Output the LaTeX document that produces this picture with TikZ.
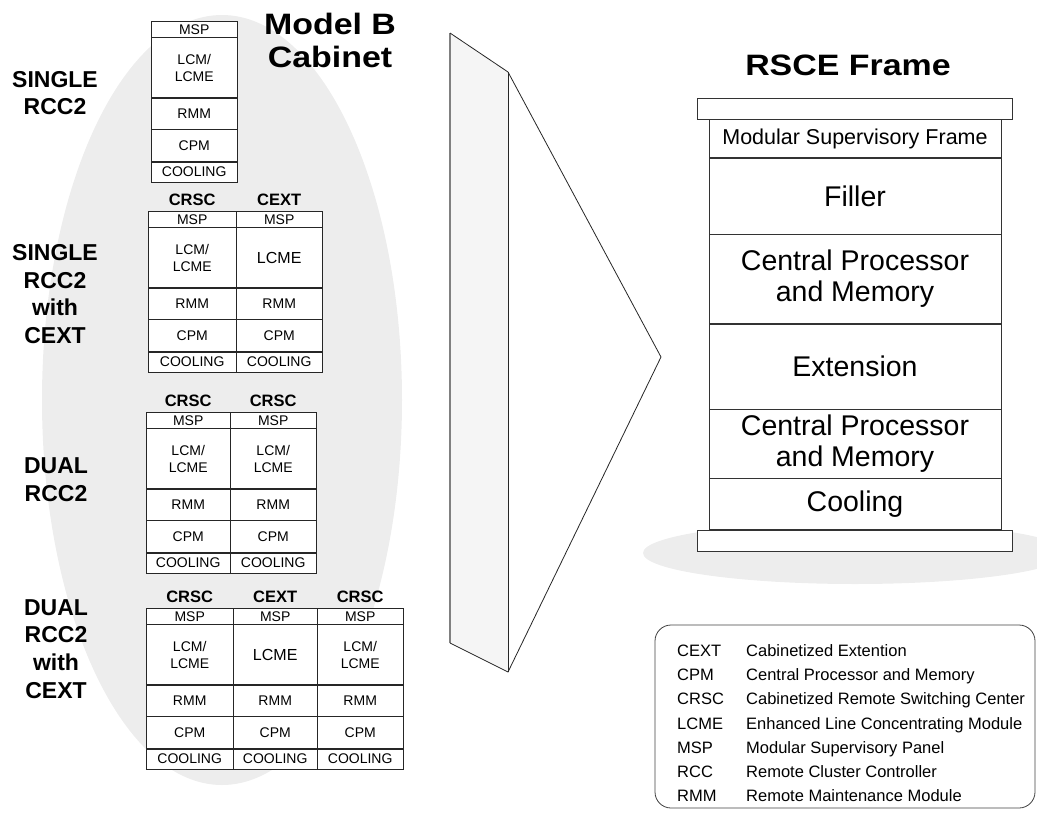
\documentclass[tikz,border=0pt]{standalone}
\usepackage{fontspec}
\setmainfont{Liberation Sans}
\newfontfamily\titlefont[FakeStretch=1.15]{Liberation Sans}
\usetikzlibrary{positioning}

\newcommand{\drawcabinet}[5]{
    \node[part,minimum width=#4,minimum height=16,anchor=north west] (#1_msp) at (#2,#3) {MSP};
    \node[part,minimum width=#4,minimum height=60,below=0pt of #1_msp] (#1_lcm) {#5};
    \node[part,minimum width=#4,minimum height=31,below=0pt of #1_lcm] (#1_rmm) {RMM};
    \node[part,minimum width=#4,minimum height=32,below=0pt of #1_rmm] (#1_cpm) {CPM};
    \node[part,minimum width=#4,minimum height=20,below=0pt of #1_cpm] (#1_cool) {COOLING};
}
\newcommand{\lcme}{{\fontsize{16}{19}\selectfont LCME}}

\begin{document}
\begin{tikzpicture}[x=1pt, y=-1pt]
            \tikzstyle{part}=[draw=black!85,fill=white,inner sep=0pt,align=center,font=\fontsize{14}{16.8}\selectfont]
            \tikzstyle{head}=[inner sep=0pt,font=\fontsize{16.5}{19}\selectfont\bfseries]
            \tikzstyle{config}=[inner sep=0pt,align=center,font=\fontsize{23}{27.8}\selectfont\bfseries]
            \tikzstyle{title}=[inner sep=0pt,align=center,font=\titlefont\bfseries\fontsize{29.5}{33}\selectfont]
            \tikzstyle{shelf}=[draw=black!80,fill=white,inner sep=0pt,minimum width=292,align=center,font=\fontsize{28.5}{31}\selectfont]
            \tikzstyle{bar}=[draw=black!80,fill=white,inner sep=0pt,minimum width=315,minimum height=21]

            \useasboundingbox (0,0) rectangle (1037,814);
            \clip (0,0) rectangle (1037,814);

            % grey backdrops
            \fill[black!7] (222,400) ellipse (180 and 385);
            \fill[black!7] (855,553) ellipse (212 and 31);

            % the prism
            \coordinate (back_top) at (450,33);
            \coordinate (back_bot) at (450,643);
            \coordinate (front_top) at (508,72);
            \coordinate (front_bot) at (508,672);
            \coordinate (tip) at (661,357);
            \fill[black!4] (back_top) -- (front_top) -- (front_bot) -- (back_bot) -- cycle;
            \fill[white] (front_top) -- (tip) -- (front_bot) -- cycle;
            \draw[black!50, line width=1.6pt] (back_top) -- (back_bot);
            \draw[black!85, line width=0.8pt] (back_top) -- (front_top) -- (tip) -- (front_bot) -- (back_bot);
            \draw[black!85, line width=0.8pt] (front_top) -- (front_bot);

            % titles
            \node[title] (model) at (330,40) {Model B\\Cabinet};
            \node[title] (rsce) at (848,65.5) {RSCE Frame};

            % configurations
            \node[config] (single) at (55,93) {SINGLE\\RCC2};
            \node[config] (single_ext) at (55,294) {SINGLE\\RCC2\\with\\CEXT};
            \node[config] (dual) at (56,480) {DUAL\\RCC2};
            \node[config] (dual_ext) at (56,649) {DUAL\\RCC2\\with\\CEXT};

            % cabinets
            \drawcabinet{one}{151}{21}{86}{LCM/\\LCME}

            \drawcabinet{twoa}{148}{211}{88}{LCM/\\LCME}
            \drawcabinet{twob}{236}{211}{86}{\lcme}
            \node[head, above=5pt of twoa_msp] (twoa_head) {CRSC};
            \node[head, above=5pt of twob_msp] (twob_head) {CEXT};

            \drawcabinet{threea}{146}{412}{84}{LCM/\\LCME}
            \drawcabinet{threeb}{230}{412}{86}{LCM/\\LCME}
            \node[head, above=5pt of threea_msp] (threea_head) {CRSC};
            \node[head, above=5pt of threeb_msp] (threeb_head) {CRSC};

            \drawcabinet{foura}{146}{608}{87}{LCM/\\LCME}
            \drawcabinet{fourb}{233}{608}{84}{\lcme}
            \drawcabinet{fourc}{317}{608}{86}{LCM/\\LCME}
            \node[head, above=5pt of foura_msp] (foura_head) {CRSC};
            \node[head, above=5pt of fourb_msp] (fourb_head) {CEXT};
            \node[head, above=5pt of fourc_msp] (fourc_head) {CRSC};

            % RSCE frame
            \node[bar, anchor=north] (rsce_top) at (855,98) {};
            \node[shelf, minimum height=38, below=0pt of rsce_top, font=\fontsize{21.5}{24}\selectfont] (rsce_msf) {Modular Supervisory Frame};
            \node[shelf, minimum height=76, below=0pt of rsce_msf] (rsce_fill) {Filler};
            \node[shelf, minimum height=89, below=0pt of rsce_fill] (rsce_cpm) {Central Processor\\and Memory};
            \node[shelf, minimum height=85, below=0pt of rsce_cpm] (rsce_ext) {Extension};
            \node[shelf, minimum height=69, below=0pt of rsce_ext] (rsce_cpm2) {Central Processor\\and Memory};
            \node[shelf, minimum height=51, below=0pt of rsce_cpm2] (rsce_cool) {Cooling};
            \node[bar, below=0pt of rsce_cool] (rsce_base) {};

            % legend
            \draw[black!75, line width=0.8pt, rounded corners=16] (655,625) rectangle (1035,808);
            \node[anchor=north west, inner sep=0pt, font=\fontsize{16.5}{24.1}\selectfont] (legend) at (677,639.7) {%
                \begin{tabular}{@{}p{69pt}@{}l@{}}
                CEXT & Cabinetized Extention\\
                CPM  & Central Processor and Memory\\
                CRSC & Cabinetized Remote Switching Center\\
                LCME & Enhanced Line Concentrating Module\\
                MSP  & Modular Supervisory Panel\\
                RCC  & Remote Cluster Controller\\
                RMM  & Remote Maintenance Module
                \end{tabular}};
        \end{tikzpicture}
\end{document}
